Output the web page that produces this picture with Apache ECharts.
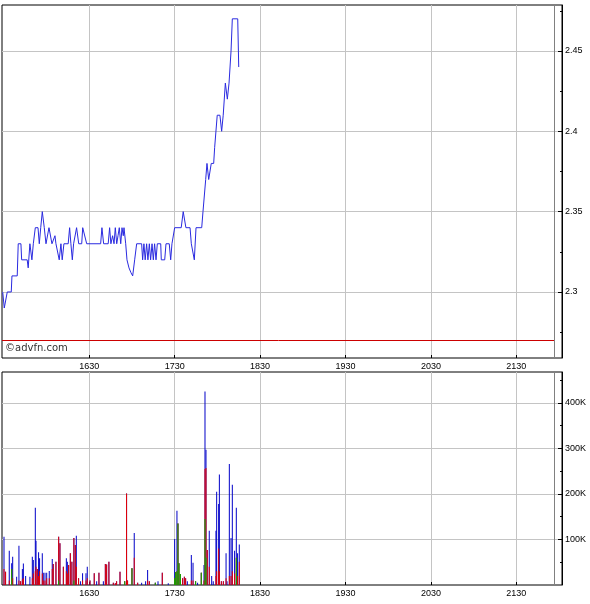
<!DOCTYPE html>
<html><head><meta charset="utf-8">
<script src="https://cdn.jsdelivr.net/npm/echarts@6/dist/echarts.min.js"></script>
<style>html,body{margin:0;padding:0;background:#fff}#c{width:590px;height:604px}</style>
</head><body><div id="c"></div>
<script>
// time in minutes after midnight
const priceTimes = [
  929.2, 930.3, 932.4, 935.2, 935.7, 939.4, 940.1, 942.0, 942.5, 946.4,
  947.1, 948.3, 949.7, 950.7, 952.1, 954.0, 954.9, 955.9, 957.0, 958.4,
  959.6, 961.0, 961.7, 963.1, 963.8, 965.0, 965.9, 966.6, 968.9, 970.1,
  971.0, 972.2, 975.2, 976.2, 977.1, 978.1, 979.0, 980.4, 981.1, 982.1,
  982.6, 984.7, 985.4, 988.2, 998.0, 998.9, 1000.1, 1003.3, 1004.3, 1005.2,
  1006.4, 1007.4, 1008.3, 1009.3, 1010.2, 1011.1, 1012.1, 1013.0, 1013.9, 1014.4,
  1015.6, 1016.5, 1017.9, 1019.3, 1020.5, 1021.9, 1023.3, 1026.8, 1027.5, 1028.4,
  1029.3, 1030.3, 1031.2, 1032.2, 1033.1, 1034.1, 1035.0, 1035.9, 1036.9, 1037.8,
  1040.2, 1040.6, 1043.0, 1043.9, 1046.2, 1047.2, 1048.1, 1049.0, 1050.0, 1054.6,
  1056.0, 1057.9, 1060.8, 1061.7, 1062.6, 1063.8, 1065.0, 1069.0, 1069.9, 1071.8,
  1072.7, 1073.9, 1074.8, 1075.7, 1077.4, 1078.1, 1079.9, 1081.8, 1083.0, 1084.1,
  1085.6, 1087.0, 1088.2, 1089.6, 1090.5, 1094.3, 1095.0
];
const priceValues = [
  2.30, 2.29, 2.30, 2.30, 2.31, 2.31, 2.33, 2.33, 2.32, 2.32,
  2.315, 2.33, 2.32, 2.33, 2.34, 2.34, 2.33, 2.34, 2.35, 2.34,
  2.33, 2.33, 2.34, 2.34, 2.33, 2.33, 2.335, 2.33, 2.32, 2.33,
  2.32, 2.33, 2.33, 2.34, 2.33, 2.32, 2.33, 2.33, 2.34, 2.34,
  2.33, 2.33, 2.34, 2.33, 2.33, 2.34, 2.33, 2.33, 2.34, 2.33,
  2.335, 2.33, 2.34, 2.33, 2.335, 2.34, 2.33, 2.34, 2.335, 2.34,
  2.33, 2.32, 2.315, 2.312, 2.31, 2.32, 2.33, 2.33, 2.32, 2.33,
  2.32, 2.33, 2.32, 2.33, 2.32, 2.33, 2.32, 2.33, 2.32, 2.33,
  2.33, 2.32, 2.32, 2.33, 2.33, 2.32, 2.33, 2.33, 2.34, 2.34,
  2.35, 2.34, 2.34, 2.33, 2.33, 2.32, 2.34, 2.34, 2.35, 2.37,
  2.38, 2.37, 2.37, 2.38, 2.38, 2.39, 2.41, 2.41, 2.40, 2.41,
  2.43, 2.42, 2.43, 2.45, 2.47, 2.47, 2.44
];
const prevClose = 2.27;
const sessionEnd = 1317;

// volume (thousands), split by colour
const volTimes = [
  930.1, 931.2, 933.8, 935.5, 936.2, 939.0, 940.6, 941.8, 943.0, 943.7,
  945.3, 948.3, 950.0, 950.7, 952.1, 952.6, 953.5, 954.4, 955.1, 957.0,
  957.7, 958.9, 960.1, 961.9, 964.0, 964.7, 966.6, 968.5, 969.4, 971.8,
  973.9, 974.6, 975.5, 976.7, 977.8, 979.2, 980.2, 980.9, 982.5, 983.9,
  985.3, 987.7, 988.6, 990.5, 993.5, 995.2, 996.8, 999.9, 1001.3, 1002.2,
  1003.8, 1006.9, 1008.3, 1009.2, 1011.6, 1014.9, 1016.2, 1016.9, 1020.0, 1021.6,
  1024.0, 1026.8, 1029.6, 1031.0, 1032.2, 1036.4, 1038.3, 1041.3, 1045.5, 1050.0,
  1050.7, 1051.6, 1052.3, 1053.0, 1054.0, 1055.6, 1056.8, 1057.7, 1058.9, 1061.7,
  1062.9, 1064.7, 1066.1, 1068.7, 1070.6, 1071.3, 1072.0, 1072.9, 1074.3, 1076.0,
  1077.1, 1079.0, 1079.5, 1080.9, 1081.4, 1082.8, 1084.2, 1086.1, 1086.8, 1088.4,
  1089.6, 1090.5, 1092.1, 1093.3, 1094.2, 1095.4
];
const volGreen = [
  0, 0, 0, 35, 0, 0, 0, 0, 0, 0,
  0, 0, 0, 0, 0, 0, 0, 0, 0, 0,
  0, 0, 0, 0, 0, 0, 0, 10, 0, 0,
  0, 0, 0, 0, 0, 10, 0, 0, 0, 0,
  0, 0, 0, 0, 0, 0, 0, 0, 0, 0,
  0, 0, 0, 0, 0, 8, 0, 0, 37, 0,
  0, 0, 0, 0, 0, 5, 0, 0, 0, 15,
  28, 30, 135, 48, 24, 0, 0, 0, 0, 0,
  0, 8, 0, 27, 0, 145, 60, 0, 0, 0,
  0, 0, 0, 0, 0, 0, 0, 0, 0, 0,
  0, 0, 0, 60, 0, 0
];
const volRed = [
  35, 29, 10, 0, 15, 0, 10, 8, 12, 15,
  0, 0, 15, 25, 30, 40, 35, 20, 30, 25,
  10, 10, 15, 15, 35, 46, 51, 96, 92, 40,
  30, 25, 44, 70, 51, 93, 88, 40, 15, 0,
  10, 10, 15, 10, 26, 0, 27, 0, 46, 45,
  51, 5, 4, 8, 29, 0, 201, 10, 0, 60,
  5, 0, 0, 10, 8, 0, 0, 27, 0, 0,
  0, 0, 0, 0, 0, 15, 18, 15, 0, 10,
  10, 0, 0, 0, 10, 110, 197, 77, 40, 0,
  0, 20, 30, 80, 30, 8, 8, 15, 0, 20,
  20, 30, 25, 0, 20, 51
];
const volBlue = [
  71, 0, 65, 13, 47, 18, 76, 0, 23, 32,
  20, 18, 47, 30, 140, 57, 0, 52, 29, 45,
  17, 17, 12, 16, 22, 0, 0, 0, 0, 0,
  29, 26, 0, 0, 0, 0, 0, 68, 0, 8,
  16, 16, 25, 0, 0, 8, 0, 8, 0, 0,
  0, 0, 0, 0, 0, 0, 0, 0, 0, 54,
  0, 5, 8, 23, 0, 0, 8, 0, 4, 86,
  0, 133, 0, 0, 0, 0, 0, 0, 8, 56,
  39, 0, 5, 0, 34, 170, 40, 0, 79, 20,
  8, 99, 175, 98, 213, 0, 0, 55, 8, 246,
  83, 190, 50, 110, 50, 38
];

const timeTicks = [990, 1050, 1110, 1170, 1230, 1290];
const priceTicks = [2.3, 2.35, 2.4, 2.45];
const priceMinorTicks = [2.275, 2.325, 2.375, 2.425, 2.475];
const volTicks = [100, 200, 300, 400];
const volMinorTicks = [50, 150, 250, 350, 450];

const X_MIN = 928.7, X_MAX = 1322.1;
const FONT = 'Liberation Sans';
const fmtTime = v => { const m = Math.round(v); return String(Math.floor(m / 60) * 100 + (m % 60)); };
const zip = (a, b) => a.map((t, i) => [t, b[i]]);

// cumulative layers (green at bottom, red above, blue on top), drawn back to front
const layerGreen = volGreen.slice();
const layerRed = volGreen.map((g, i) => g + volRed[i]);
const layerBlue = layerRed.map((s, i) => s + volBlue[i]);

function xAxisFor(gi) {
  return {
    type: 'value', gridIndex: gi, min: X_MIN, max: X_MAX,
    axisLine: { show: false },
    axisTick: { show: true, inside: true, length: 3, customValues: timeTicks, lineStyle: { color: '#000' } },
    axisLabel: { customValues: timeTicks, formatter: fmtTime, fontSize: 9, fontFamily: FONT, color: '#000', margin: 4 },
    splitLine: { show: true, lineStyle: { color: '#c4c4c4', width: 1 } }
  };
}
function yAxisFor(gi, min, max, ticks, fmt) {
  return {
    type: 'value', gridIndex: gi, position: 'right', min: min, max: max,
    axisLine: { show: true, lineStyle: { color: '#000' } },
    axisTick: { show: true, inside: true, length: 4, customValues: ticks, lineStyle: { color: '#000' } },
    axisLabel: { customValues: ticks, formatter: fmt, fontSize: 9, fontFamily: FONT, color: '#000', margin: 3 },
    splitLine: { show: true, lineStyle: { color: '#c4c4c4', width: 1 } }
  };
}
function minorAxisFor(gi, min, max, ticks) {
  return {
    type: 'value', gridIndex: gi, position: 'right', min: min, max: max,
    axisLine: { show: false },
    axisTick: { show: true, inside: true, length: 2, customValues: ticks, lineStyle: { color: '#000' } },
    axisLabel: { show: false },
    splitLine: { show: false }
  };
}
function volLayer(data, color, extra) {
  return Object.assign({
    type: 'bar', xAxisIndex: 1, yAxisIndex: 1, barWidth: 1, barGap: '-100%',
    data: zip(volTimes, data), itemStyle: { color: color }
  }, extra || {});
}

const chart = echarts.init(document.getElementById('c'), null, { renderer: 'canvas' });
chart.setOption({
  animation: false,
  backgroundColor: '#fff',
  grid: [
    { left: 2, top: 5, width: 560, height: 353, show: true, borderColor: '#000', borderWidth: 1, backgroundColor: 'transparent' },
    { left: 2, top: 372, width: 560, height: 213, show: true, borderColor: '#000', borderWidth: 1, backgroundColor: 'transparent' }
  ],
  xAxis: [xAxisFor(0), xAxisFor(1)],
  yAxis: [
    yAxisFor(0, 2.2589, 2.4786, priceTicks, v => String(+(+v).toFixed(3))),
    yAxisFor(1, 0, 468, volTicks, v => v + 'K'),
    minorAxisFor(0, 2.2589, 2.4786, priceMinorTicks),
    minorAxisFor(1, 0, 468, volMinorTicks)
  ],
  graphic: [
    { type: 'text', left: 5, top: 343, style: { text: '\u00a9advfn.com', fontSize: 10, fontFamily: 'DejaVu Sans', fill: '#333' } }
  ],
  series: [
    {
      type: 'line', xAxisIndex: 0, yAxisIndex: 0, data: zip(priceTimes, priceValues),
      showSymbol: false, symbol: 'none', lineStyle: { color: '#2a2ae0', width: 1 }, z: 5,
      markLine: {
        silent: true, symbol: 'none', animation: false, label: { show: false },
        data: [
          [{ coord: [X_MIN, prevClose], lineStyle: { color: '#cc0000', width: 1, type: 'solid' } }, { coord: [sessionEnd, prevClose] }],
          { xAxis: sessionEnd, lineStyle: { color: '#808080', width: 1, type: 'solid' } }
        ]
      }
    },
    volLayer(layerBlue, '#0000c8', {
      markLine: {
        silent: true, symbol: 'none', animation: false, label: { show: false },
        data: [{ xAxis: sessionEnd, lineStyle: { color: '#808080', width: 1, type: 'solid' } }]
      }
    }),
    volLayer(layerRed, '#e80000'),
    volLayer(layerGreen, '#00b400')
  ]
});
</script>
</body></html>
